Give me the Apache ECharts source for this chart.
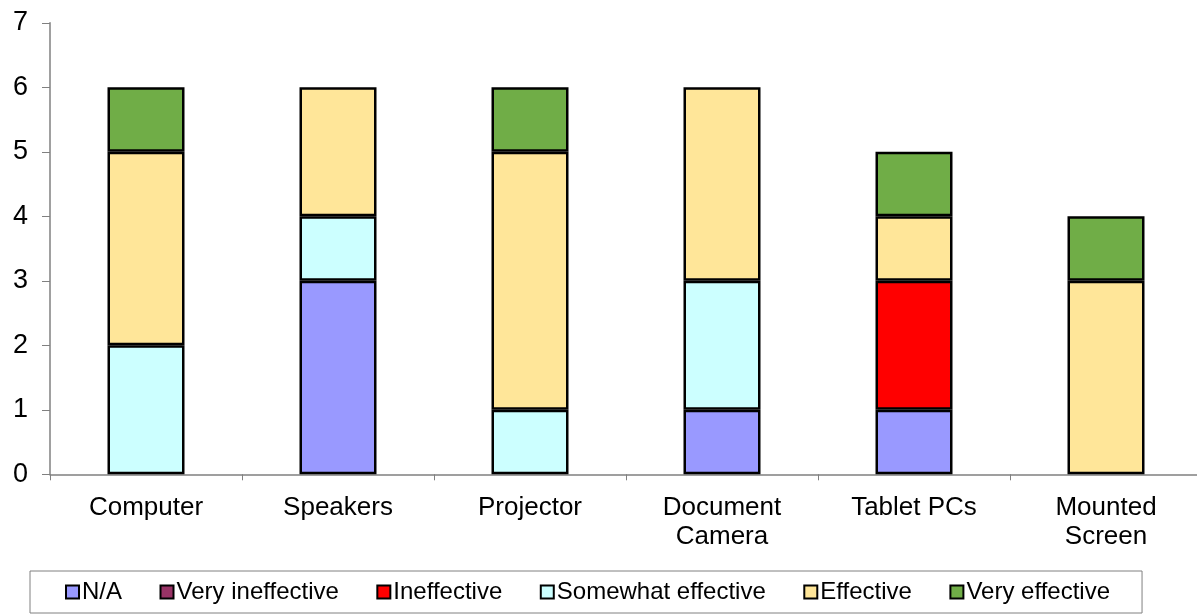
<!DOCTYPE html>
<html>
<head>
<meta charset="utf-8">
<script src="https://cdn.jsdelivr.net/npm/echarts@6/dist/echarts.min.js"></script>
<style>html,body{margin:0;padding:0;background:#fff}#c{width:1197px;height:614px}</style>
</head>
<body>
<div id="c"></div>
<script>
var categories = ['Computer', 'Speakers', 'Projector', 'Document\nCamera', 'Tablet PCs', 'Mounted\nScreen'];
var seriesNames = ['N/A', 'Very ineffective', 'Ineffective', 'Somewhat effective', 'Effective', 'Very effective'];
var naValues = [0, 3, 0, 1, 1, 0];
var veryIneffectiveValues = [0, 0, 0, 0, 0, 0];
var ineffectiveValues = [0, 0, 0, 0, 2, 0];
var somewhatEffectiveValues = [2, 1, 1, 2, 0, 0];
var effectiveValues = [3, 2, 4, 3, 1, 3];
var veryEffectiveValues = [1, 0, 1, 0, 1, 1];
var yTicks = [0, 1, 2, 3, 4, 5, 6, 7];

var colors = ['#9999FF', '#993366', '#FF0000', '#CCFFFF', '#FFE699', '#70AD47'];
var allValues = [naValues, veryIneffectiveValues, ineffectiveValues, somewhatEffectiveValues, effectiveValues, veryEffectiveValues];
var font = '"Liberation Sans", Arial, sans-serif';

var series = seriesNames.map(function (name, i) {
  return {
    name: name,
    type: 'bar',
    stack: 'total',
    barWidth: 77,
    data: allValues[i].map(function (v) { return v === 0 ? null : v; }),
    itemStyle: { color: colors[i], borderColor: '#000', borderWidth: 2.5 },
    emphasis: { disabled: true }
  };
});

var chart = echarts.init(document.getElementById('c'), null, { renderer: 'canvas' });
chart.setOption({
  animation: false,
  color: colors,
  grid: { left: 50, top: 22.8, width: 1152, height: 451.5, outerBoundsMode: 'none' },
  legend: {
    data: seriesNames.map(function (n, i) {
      return { name: n, itemStyle: { color: colors[i], borderColor: '#000', borderWidth: 2 } };
    }),
    left: 30,
    top: 571,
    icon: 'rect',
    itemWidth: 13,
    itemHeight: 13,
    itemGap: 37.5,
    padding: [9, 32, 9, 35],
    borderColor: '#808080',
    borderWidth: 1,
    textStyle: { fontSize: 24, color: '#000', fontFamily: font, padding: [0, 0, 0, -2] }
  },
  xAxis: {
    type: 'category',
    data: categories,
    axisLine: { lineStyle: { color: '#808080', width: 1.5 } },
    axisTick: { show: true, length: 6, interval: 0, alignWithLabel: false, lineStyle: { color: '#808080' } },
    axisLabel: { interval: 0, fontSize: 26, color: '#000', fontFamily: font, lineHeight: 29, margin: 19 }
  },
  yAxis: {
    type: 'value',
    min: yTicks[0],
    max: yTicks[yTicks.length - 1],
    interval: 1,
    axisLine: { show: true, lineStyle: { color: '#808080', width: 1.5 } },
    axisTick: { show: true, length: 8, lineStyle: { color: '#808080' } },
    splitLine: { show: false },
    axisLabel: { fontSize: 27, color: '#000', fontFamily: font, margin: 22 }
  },
  series: series
});
</script>
</body>
</html>
